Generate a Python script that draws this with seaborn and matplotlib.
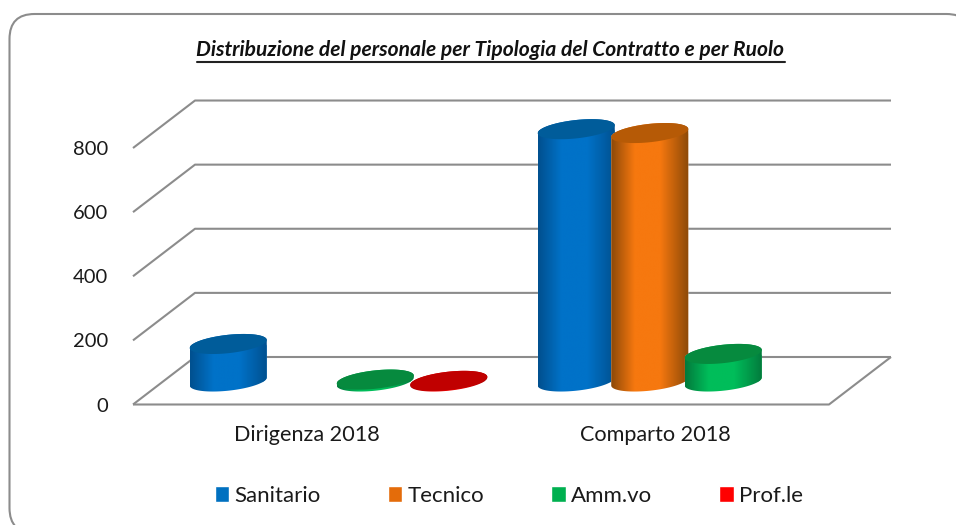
import numpy as np
import pandas as pd
import matplotlib
matplotlib.use("Agg")
import matplotlib.pyplot as plt
import seaborn as sns
from matplotlib.colors import LinearSegmentedColormap
from matplotlib.lines import Line2D
from matplotlib.patches import FancyBboxPatch, Polygon
from matplotlib.transforms import IdentityTransform

# Values
contratti = ["Dirigenza 2018", "Comparto 2018"]
ruoli = ["Sanitario", "Tecnico", "Amm.vo", "Prof.le"]
sanitario = [117, 787]
tecnico = [0, 775]
amm_vo = [6, 86]
prof_le = [2, 0]
y_ticks = [0, 200, 400, 600, 800]

legend_colors = ["#0070C0", "#E46C0A", "#00B050", "#FF0000"]
side_dark = ["#00508F", "#8E4A08", "#037A3C", "#A00000"]
side_light = ["#0072C8", "#F6780F", "#00BD5A", "#F00000"]
top_colors = ["#005C9A", "#B65A06", "#068A3E", "#C00000"]

W, H = 956, 525
PX_PER_UNIT = 0.3206
PX_PER_CAT = 348.0

sns.set_theme(style="white")
plt.rcParams["font.family"] = ["Lato", "DejaVu Sans"]

df = pd.DataFrame({
    "contratto": contratti * 4,
    "ruolo": np.repeat(ruoli, 2),
    "valore": sanitario + tecnico + amm_vo + prof_le,
})

fig = plt.figure(figsize=(W / 100, H / 100), dpi=100)

# rounded frame, it runs off the right and bottom edge of the picture
frame = FancyBboxPatch((9.5, -8), 962, 519, boxstyle="round,pad=0,rounding_size=25",
                       transform=IdentityTransform(), fc="white", ec="#8C8C8C", lw=1.5, zorder=-1)
fig.add_artist(frame)

ax = fig.add_axes([133 / W, (H - 404.5) / H, (891 - 133) / W, 309.5 / H])
ax.patch.set_alpha(0)
sns.barplot(data=df, x="contratto", y="valore", hue="ruolo", order=contratti, hue_order=ruoli,
            palette=legend_colors, saturation=1, width=0.845, gap=-0.048, errorbar=None, ax=ax)

xlim = (-0.5, -0.5 + (891 - 133) / PX_PER_CAT)
ylim = (0, 309.5 / PX_PER_UNIT)

# walls and floor of the fake 3D box
depth_x = 62 / PX_PER_CAT
depth_y = 47.5 / PX_PER_UNIT
grid_kw = dict(color="#8C8C8C", lw=1.5, clip_on=False, zorder=1, solid_capstyle="butt")
for v in y_ticks:
    ax.plot([-0.5, -0.5 + depth_x, xlim[1]], [v, v + depth_y, v + depth_y], **grid_kw)
ax.plot([-0.5, 1.5, xlim[1]], [0, 0, depth_y], **grid_kw)

# turn the flat bars into cylinders standing in the middle of the floor
shift_x = 31.5 / PX_PER_CAT
base_y = 23 / PX_PER_UNIT
minor = 9.2 / PX_PER_UNIT
tilt = 4.0 / PX_PER_UNIT
t = np.linspace(0, 2 * np.pi, 121)

def ring(cx, cy, a, tt):
    return np.column_stack([cx + a * np.cos(tt), cy + minor * np.sin(tt) + tilt * np.cos(tt)])

for i, container in enumerate(ax.containers):
    cmap = LinearSegmentedColormap.from_list("side", [side_dark[i], side_light[i], side_light[i], side_dark[i]])
    grad = cmap(np.interp(np.linspace(0, 1, 80), [0, 0.45, 1], [0, 0.5, 1]))[None, :, :]
    for bar in container:
        value = bar.get_height()
        if value <= 0:
            bar.set_visible(False)
            continue
        bar.set_x(bar.get_x() + shift_x)
        bar.set_y(base_y)
        a = bar.get_width() / 2
        cx = bar.get_x() + a
        top_y = base_y + value
        z = 3 + 3 * i
        # outline: lower half of the base ring, upper half of the top ring
        low = ring(cx, base_y, a, np.linspace(np.pi, 2 * np.pi, 61))
        upp = ring(cx, top_y, a, np.linspace(0, np.pi, 61))
        body = Polygon(np.vstack([low, upp]), closed=True, transform=ax.transData)
        bar.set_zorder(z)
        bar.set_clip_path(body)
        img = ax.imshow(grad, extent=(cx - a, cx + a, base_y - 40, top_y + 40), aspect="auto",
                        interpolation="bilinear", zorder=z + 0.5)
        img.set_clip_path(body)
        ax.fill(*ring(cx, top_y, a, t).T, color=top_colors[i], lw=0, zorder=z + 1)

ax.set_xlim(xlim)
ax.set_ylim(ylim)
ax.set_xlabel("")
ax.set_ylabel("")
ax.set_yticks(y_ticks)
ax.set_xticks(range(len(contratti)))
ax.set_xticklabels(contratti)
ax.tick_params(axis="x", length=0, pad=15, labelsize=15.6, labelcolor="#1A1A1A")
ax.tick_params(axis="y", length=0, pad=18, labelsize=14.5, labelcolor="#1A1A1A")
sns.despine(ax=ax, left=True, bottom=True)

handles, labels = ax.get_legend_handles_labels()
ax.legend(handles, labels, ncol=4, loc="center", bbox_to_anchor=(509 / W, (H - 496) / H),
          bbox_transform=fig.transFigure, frameon=False, fontsize=16, handlelength=0.66,
          handleheight=0.7, handletextpad=0.25, columnspacing=3.0, labelcolor="#1A1A1A")

title = fig.text(490.5 / W, (H - 50) / H, "Distribuzione del personale per Tipologia del Contratto e per Ruolo",
                 ha="center", va="center", fontsize=15.1, fontweight="bold", fontstyle="italic", color="#111111")
fig.canvas.draw()
box = title.get_window_extent()
fig.add_artist(Line2D([box.x0, box.x1], [H - 61.5, H - 61.5], color="#222222", lw=1.5,
                      transform=IdentityTransform()))

fig.savefig("out.png", dpi=100)
